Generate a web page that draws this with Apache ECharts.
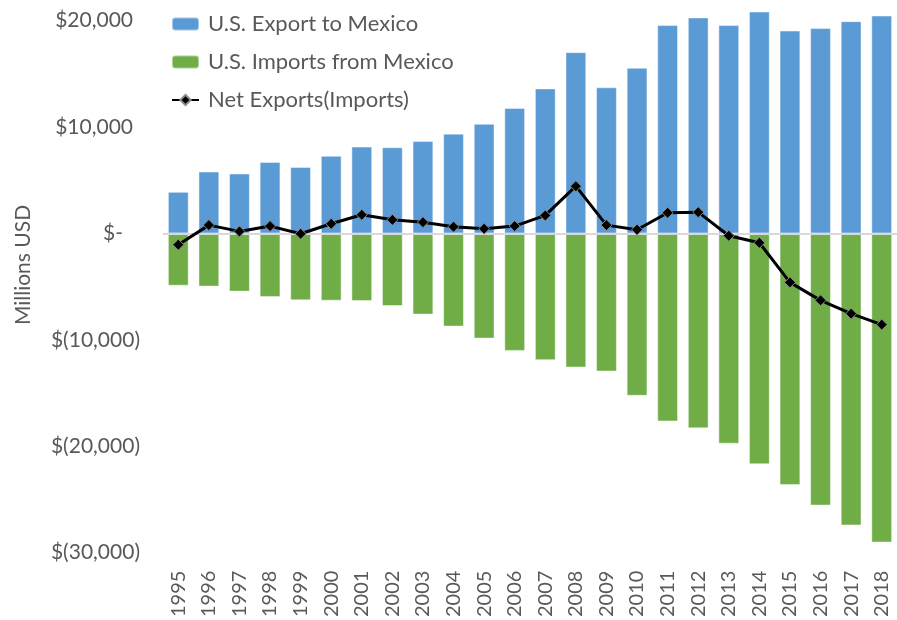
<!DOCTYPE html>
<html>
<head>
<meta charset="utf-8">
<script src="https://cdn.jsdelivr.net/npm/echarts@6/dist/echarts.min.js"></script>
<style>
  html, body { margin: 0; padding: 0; background: #fff; }
  #chart { width: 897px; height: 620px; }
</style>
</head>
<body>
<div id="chart"></div>
<script>
// data, millions USD
const years = ['1995', '1996', '1997', '1998', '1999', '2000', '2001', '2002', '2003', '2004', '2005', '2006',
  '2007', '2008', '2009', '2010', '2011', '2012', '2013', '2014', '2015', '2016', '2017', '2018']
const exportsToMexico = [3910, 5820, 5630, 6720, 6250, 7290, 8160, 8100, 8690, 9380, 10300, 11800,
  13630, 17040, 13730, 15570, 19580, 20300, 19580, 20860, 19070, 19300, 19950, 20480]
const importsFromMexico = [-4910, -5000, -5470, -5970, -6290, -6320, -6350, -6820, -7630, -8750, -9880, -11040,
  -11910, -12600, -12980, -15260, -17670, -18320, -19760, -21700, -23640, -25580, -27450, -29050]
const netExports = [-1060, 780, 190, 690, -30, 910, 1750, 1280, 1060, 630, 440, 690,
  1690, 4440, 780, 350, 1940, 2000, -220, -880, -4600, -6290, -7540, -8570]

const font = 'Lato'
const grey = '#595959'

function fmtTick(v) {
  if (v % 10000 !== 0) return ''
  if (v === 0) return '{z|$-}'
  const s = Math.abs(v).toLocaleString('en-US')
  if (v < 0) return '{n|$(' + s + ')}'
  return '{p|$' + s + '}'
}

const chart = echarts.init(document.getElementById('chart'))

const option = {
  animation: false,
  textStyle: { fontFamily: font },
  grid: { left: 163, top: 10, width: 738, height: 544, containLabel: false },
  legend: {
    orient: 'vertical',
    left: 166,
    top: 7,
    itemWidth: 27,
    itemHeight: 13,
    itemGap: 14,
    textStyle: { fontFamily: font, fontSize: 22, color: grey, lineHeight: 24, padding: [0, 0, 0, 4] },
    data: ['U.S. Export to Mexico', 'U.S. Imports from Mexico', 'Net Exports(Imports)']
  },
  xAxis: {
    type: 'category',
    data: years,
    axisLine: { show: false, onZero: false },
    axisTick: { show: false },
    axisLabel: { rotate: 90, fontFamily: font, fontSize: 20, color: grey, margin: 18 }
  },
  yAxis: {
    type: 'value',
    min: -30000,
    max: 21000,
    interval: 10000,
    splitLine: { show: false },
    axisLine: { show: false },
    axisTick: { show: false },
    axisLabel: {
      margin: 23,
      formatter: fmtTick,
      rich: {
        p: { fontFamily: font, fontSize: 21, color: grey, padding: [0, 7, 0, 0] },
        n: { fontFamily: font, fontSize: 21, color: grey },
        z: { fontFamily: font, fontSize: 21, color: grey, padding: [0, 17, 0, 0] }
      }
    }
  },
  graphic: [{
    type: 'text',
    x: 23,
    y: 265,
    rotation: Math.PI / 2,
    style: { text: 'Millions USD', fontFamily: font, fontSize: 21, fill: grey, align: 'center', verticalAlign: 'middle' }
  }],
  series: [
    {
      name: 'U.S. Export to Mexico',
      type: 'bar',
      stack: 'trade',
      barWidth: '68%',
      data: exportsToMexico,
      itemStyle: { color: '#5b9bd5', borderColor: 'rgba(255,255,255,0.45)', borderWidth: 1 }
    },
    {
      name: 'U.S. Imports from Mexico',
      type: 'bar',
      stack: 'trade',
      barWidth: '68%',
      data: importsFromMexico,
      itemStyle: { color: '#70ad47', borderColor: 'rgba(255,255,255,0.45)', borderWidth: 1 },
      markLine: {
        silent: true,
        symbol: 'none',
        label: { show: false },
        lineStyle: { color: '#d9d9d9', width: 2, type: 'solid' },
        data: [{ yAxis: 0 }]
      }
    },
    {
      name: 'Net Exports(Imports)',
      type: 'line',
      data: netExports,
      symbol: 'diamond',
      symbolSize: 11,
      z: 5,
      lineStyle: { color: '#000', width: 3 },
      itemStyle: { color: '#000', borderColor: '#8c8c8c', borderWidth: 1 }
    }
  ]
}

chart.setOption(option)
</script>
</body>
</html>
